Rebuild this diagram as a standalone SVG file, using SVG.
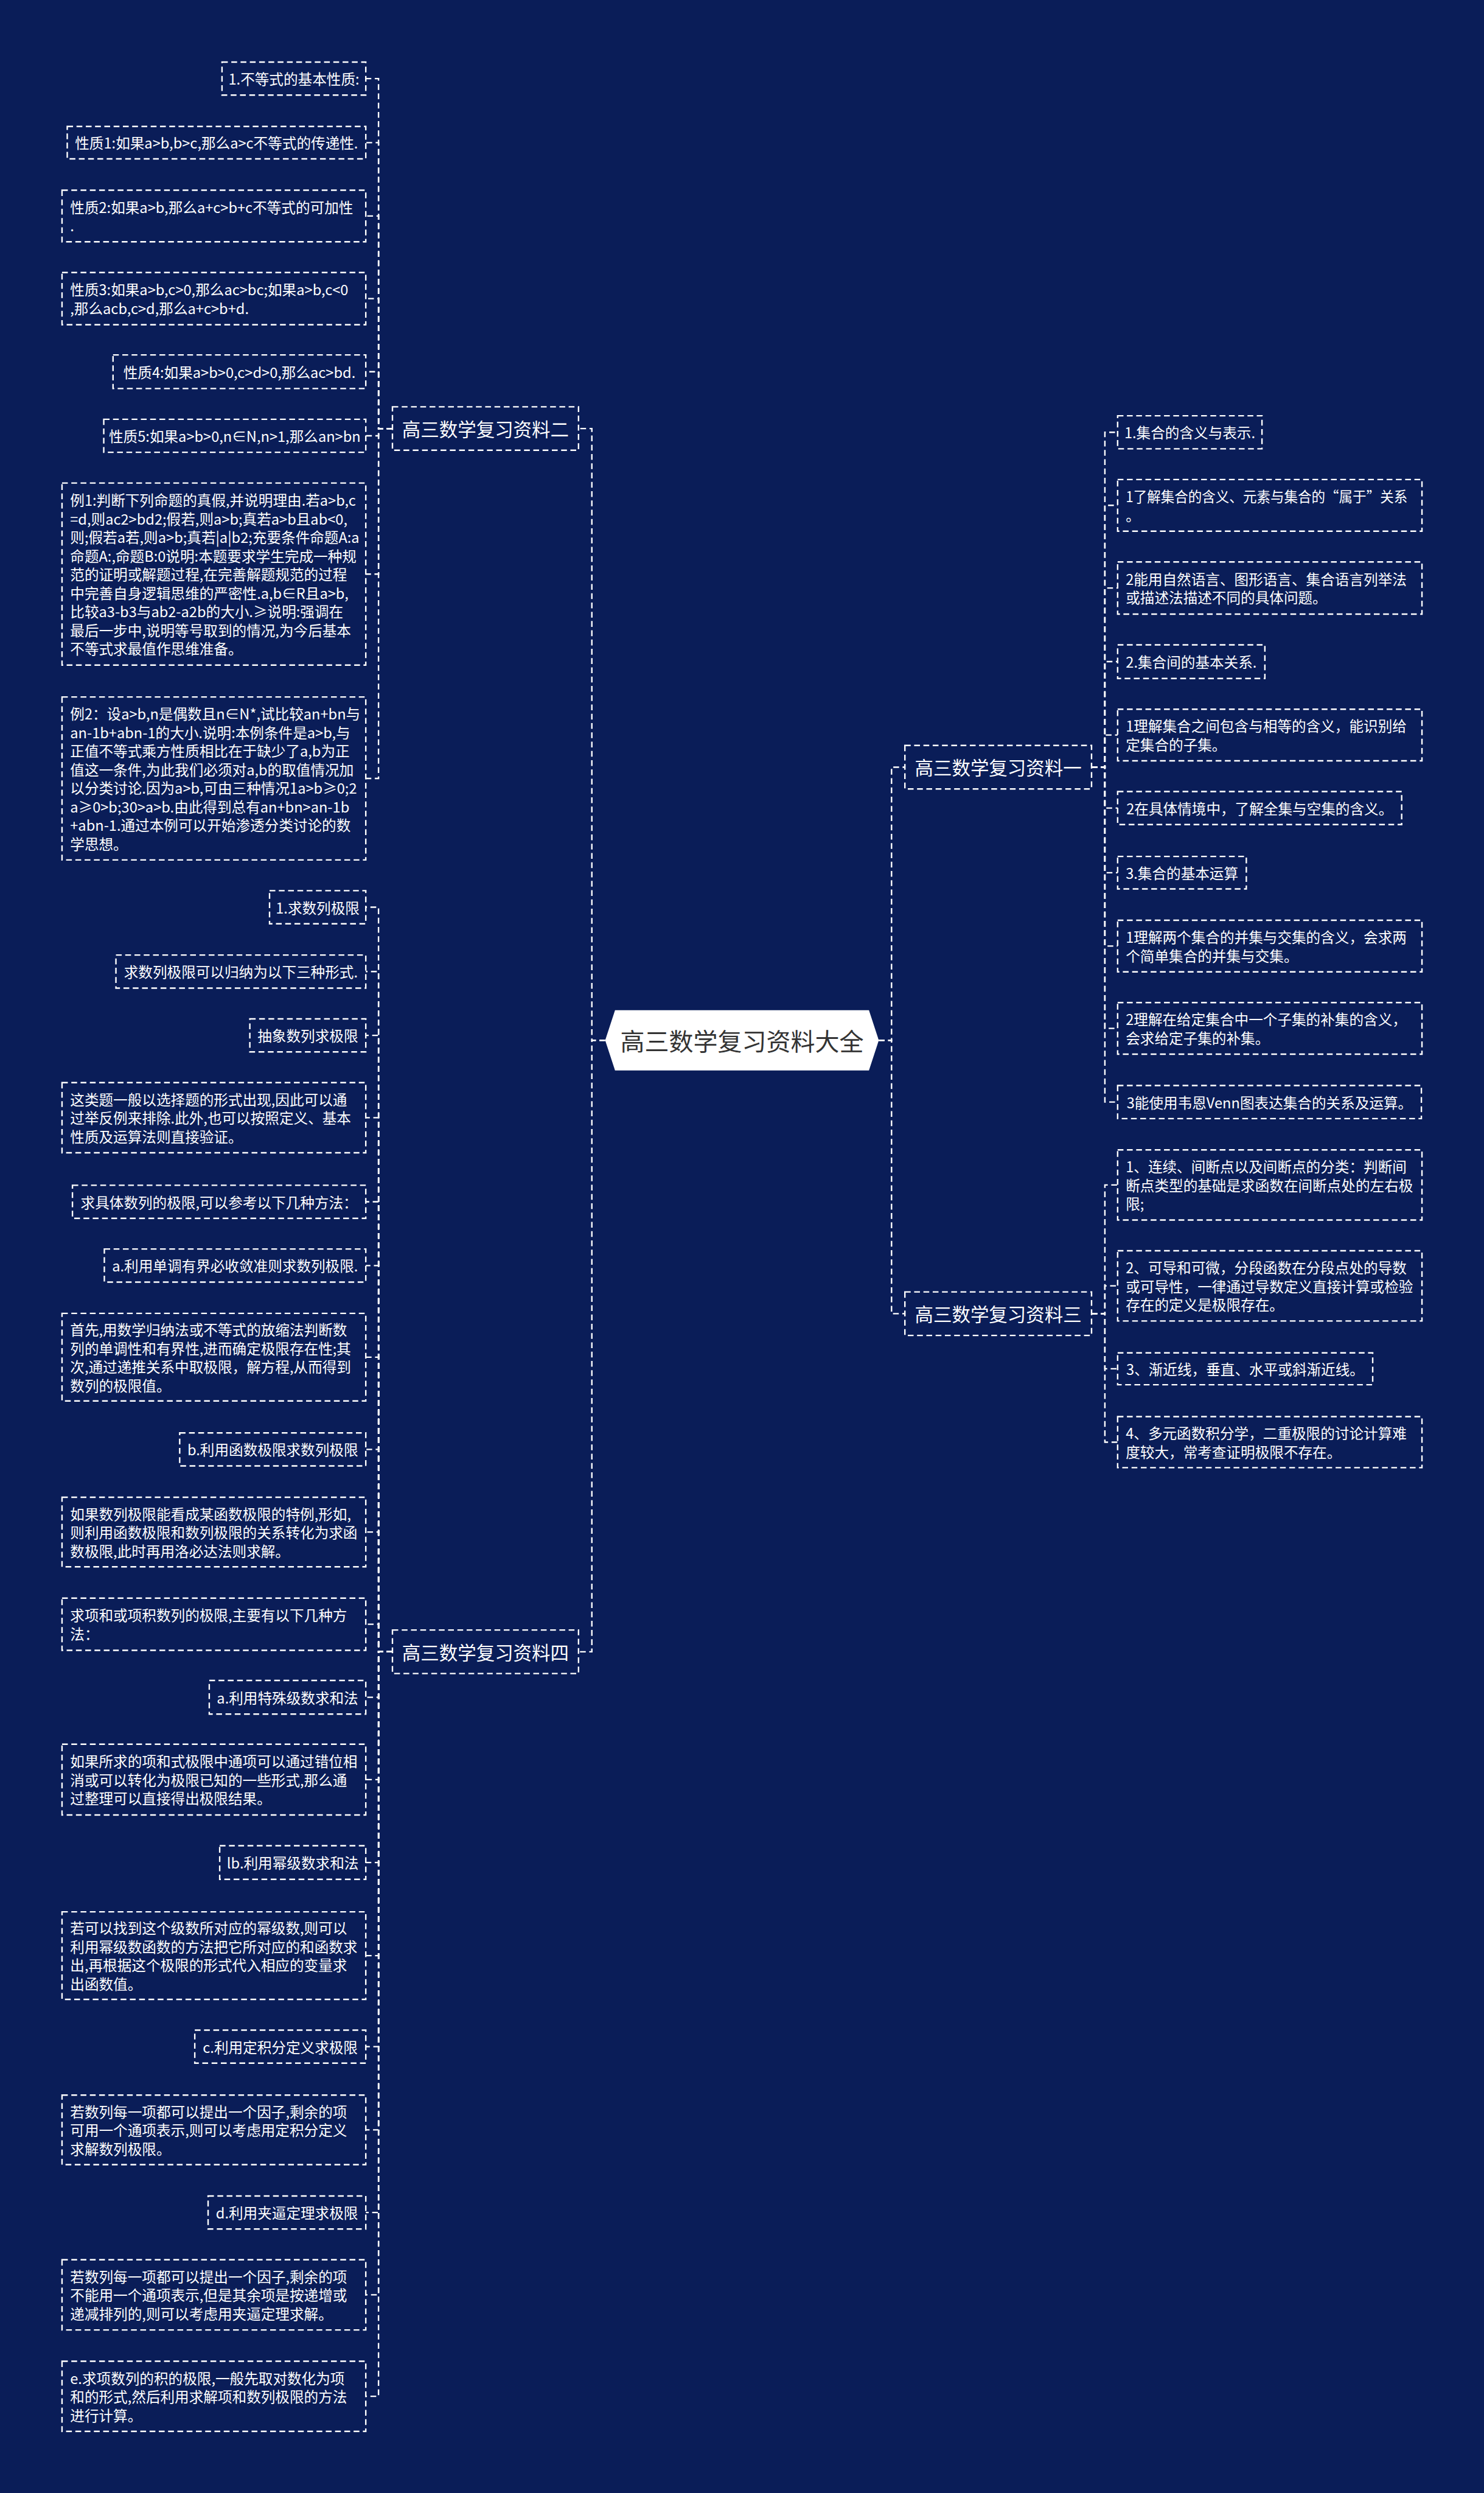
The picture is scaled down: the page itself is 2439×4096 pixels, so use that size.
<svg xmlns="http://www.w3.org/2000/svg" width="2439" height="4096" viewBox="0 0 2439 4096">
<style>
.bx{fill:none;stroke:#ffffff;stroke-width:2.5;stroke-dasharray:10 6}
.cn{fill:none;stroke:#ffffff;stroke-width:2.5;stroke-dasharray:10 6}
.t{font-family:"Noto Sans CJK SC","Noto Sans",sans-serif;font-size:24.8px;fill:#ffffff;dominant-baseline:central}
.m{text-anchor:middle}
.tb{font-size:32px}
.tc{font-size:42px;fill:#333333}
</style>
<rect x="0" y="0" width="2439" height="4096" fill="#0a1d58"/>
<g transform="scale(0.95273)">
<g id="connectors">
<path class="cn" d="M1044 1794H1021V739H998"/>
<path class="cn" d="M1044 1794H1021V2848.5H998"/>
<path class="cn" d="M1516 1794H1538V1323H1561"/>
<path class="cn" d="M1516 1794H1538V2265.5H1561"/>
<path class="cn" d="M677 739H653V135.5H631"/>
<path class="cn" d="M677 739H653V246H631"/>
<path class="cn" d="M677 739H653V372.5H631"/>
<path class="cn" d="M677 739H653V515H631"/>
<path class="cn" d="M677 739H653V641H631"/>
<path class="cn" d="M677 739H653V751.5H631"/>
<path class="cn" d="M677 739H653V990H631"/>
<path class="cn" d="M677 739H653V1342.5H631"/>
<path class="cn" d="M677 2848.5H653V1564.5H631"/>
<path class="cn" d="M677 2848.5H653V1675.5H631"/>
<path class="cn" d="M677 2848.5H653V1785.5H631"/>
<path class="cn" d="M677 2848.5H653V1927.5H631"/>
<path class="cn" d="M677 2848.5H653V2072.5H631"/>
<path class="cn" d="M677 2848.5H653V2182.5H631"/>
<path class="cn" d="M677 2848.5H653V2340.5H631"/>
<path class="cn" d="M677 2848.5H653V2499.5H631"/>
<path class="cn" d="M677 2848.5H653V2642H631"/>
<path class="cn" d="M677 2848.5H653V2801H631"/>
<path class="cn" d="M677 2848.5H653V2927H631"/>
<path class="cn" d="M677 2848.5H653V3069H631"/>
<path class="cn" d="M677 2848.5H653V3212H631"/>
<path class="cn" d="M677 2848.5H653V3372.5H631"/>
<path class="cn" d="M677 2848.5H653V3529.5H631"/>
<path class="cn" d="M677 2848.5H653V3673H631"/>
<path class="cn" d="M677 2848.5H653V3815.5H631"/>
<path class="cn" d="M677 2848.5H653V3957.5H631"/>
<path class="cn" d="M677 2848.5H653V4132.5H631"/>
<path class="cn" d="M1883 1323H1906V745.5H1928"/>
<path class="cn" d="M1883 1323H1906V871.5H1928"/>
<path class="cn" d="M1883 1323H1906V1014H1928"/>
<path class="cn" d="M1883 1323H1906V1141H1928"/>
<path class="cn" d="M1883 1323H1906V1267.5H1928"/>
<path class="cn" d="M1883 1323H1906V1393.5H1928"/>
<path class="cn" d="M1883 1323H1906V1505H1928"/>
<path class="cn" d="M1883 1323H1906V1631.5H1928"/>
<path class="cn" d="M1883 1323H1906V1773.5H1928"/>
<path class="cn" d="M1883 1323H1906V1900.5H1928"/>
<path class="cn" d="M1883 2265.5H1906V2043.5H1928"/>
<path class="cn" d="M1883 2265.5H1906V2217.5H1928"/>
<path class="cn" d="M1883 2265.5H1906V2360.5H1928"/>
<path class="cn" d="M1883 2265.5H1906V2487H1928"/>
</g>

<g id="root">
<polygon points="1044,1794 1061,1742 1499,1742 1516,1794 1499,1846 1061,1846" fill="#ffffff"/>
<text class="t m tc" x="1280" y="1794">高三数学复习资料大全</text>
</g>

<g id="b2"><rect class="bx" x="677" y="701.5" width="321" height="75"/><text class="t m tb" x="837.5" y="739">高三数学复习资料二</text></g>
<g id="b4"><rect class="bx" x="677" y="2811" width="321" height="75"/><text class="t m tb" x="837.5" y="2848.5">高三数学复习资料四</text></g>
<g id="b1"><rect class="bx" x="1561" y="1285.5" width="322" height="75"/><text class="t m tb" x="1722" y="1323">高三数学复习资料一</text></g>
<g id="b3"><rect class="bx" x="1561" y="2228" width="322" height="75"/><text class="t m tb" x="1722" y="2265.5">高三数学复习资料三</text></g>

<g id="c1"><rect class="bx" x="383" y="107" width="248" height="57"/><text class="t m" x="507" y="135.5">1.不等式的基本性质:</text></g>
<g id="c2"><rect class="bx" x="116" y="218" width="515" height="56"/><text class="t m" x="373.5" y="246">性质1:如果a&gt;b,b&gt;c,那么a&gt;c不等式的传递性.</text></g>
<g id="c3"><rect class="bx" x="107" y="328" width="524" height="89"/><text class="t" x="121"><tspan x="121" y="356.5">性质2:如果a&gt;b,那么a+c&gt;b+c不等式的可加性</tspan><tspan x="121" y="388.5">.</tspan></text></g>
<g id="c4"><rect class="bx" x="107" y="470" width="524" height="90"/><text class="t" x="121"><tspan x="121" y="499">性质3:如果a&gt;b,c&gt;0,那么ac&gt;bc;如果a&gt;b,c&lt;0</tspan><tspan x="121" y="531">,那么acb,c&gt;d,那么a+c&gt;b+d.</tspan></text></g>
<g id="c5"><rect class="bx" x="195" y="612" width="436" height="58"/><text class="t m" x="413" y="641">性质4:如果a&gt;b&gt;0,c&gt;d&gt;0,那么ac&gt;bd.</text></g>
<g id="c6"><rect class="bx" x="179" y="723" width="452" height="57"/><text class="t m" x="405" y="751.5">性质5:如果a&gt;b&gt;0,n∈N,n&gt;1,那么an&gt;bn</text></g>
<g id="c7"><rect class="bx" x="107" y="833" width="524" height="314"/><text class="t" x="121">
<tspan x="121" y="862">例1:判断下列命题的真假,并说明理由.若a&gt;b,c</tspan>
<tspan x="121" y="894">=d,则ac2&gt;bd2;假若,则a&gt;b;真若a&gt;b且ab&lt;0,</tspan>
<tspan x="121" y="926">则;假若a若,则a&gt;b;真若|a|b2;充要条件命题A:a</tspan>
<tspan x="121" y="958">命题A:,命题B:0说明:本题要求学生完成一种规</tspan>
<tspan x="121" y="990">范的证明或解题过程,在完善解题规范的过程</tspan>
<tspan x="121" y="1022">中完善自身逻辑思维的严密性.a,b∈R且a&gt;b,</tspan>
<tspan x="121" y="1054">比较a3-b3与ab2-a2b的大小.≥说明:强调在</tspan>
<tspan x="121" y="1086">最后一步中,说明等号取到的情况,为今后基本</tspan>
<tspan x="121" y="1118">不等式求最值作思维准备。</tspan></text></g>
<g id="c8"><rect class="bx" x="107" y="1202" width="524" height="281"/><text class="t" x="121">
<tspan x="121" y="1230.5">例2：设a&gt;b,n是偶数且n∈N*,试比较an+bn与</tspan>
<tspan x="121" y="1262.5">an-1b+abn-1的大小.说明:本例条件是a&gt;b,与</tspan>
<tspan x="121" y="1294.5">正值不等式乘方性质相比在于缺少了a,b为正</tspan>
<tspan x="121" y="1326.5">值这一条件,为此我们必须对a,b的取值情况加</tspan>
<tspan x="121" y="1358.5">以分类讨论.因为a&gt;b,可由三种情况1a&gt;b≥0;2</tspan>
<tspan x="121" y="1390.5">a≥0&gt;b;30&gt;a&gt;b.由此得到总有an+bn&gt;an-1b</tspan>
<tspan x="121" y="1422.5">+abn-1.通过本例可以开始渗透分类讨论的数</tspan>
<tspan x="121" y="1454.5">学思想。</tspan></text></g>

<g id="d1"><rect class="bx" x="465" y="1536" width="166" height="57"/><text class="t m" x="548" y="1564.5">1.求数列极限</text></g>
<g id="d2"><rect class="bx" x="200" y="1647" width="431" height="57"/><text class="t m" x="415.5" y="1675.5">求数列极限可以归纳为以下三种形式.</text></g>
<g id="d3"><rect class="bx" x="431" y="1757" width="200" height="57"/><text class="t m" x="531" y="1785.5">抽象数列求极限</text></g>
<g id="d4"><rect class="bx" x="107" y="1867" width="524" height="121"/><text class="t" x="121"><tspan x="121" y="1895.5">这类题一般以选择题的形式出现,因此可以通</tspan><tspan x="121" y="1927.5">过举反例来排除.此外,也可以按照定义、基本</tspan><tspan x="121" y="1959.5">性质及运算法则直接验证。</tspan></text></g>
<g id="d5"><rect class="bx" x="125" y="2044" width="506" height="57"/><text class="t m" x="378" y="2072.5">求具体数列的极限,可以参考以下几种方法：</text></g>
<g id="d6"><rect class="bx" x="180" y="2154" width="451" height="57"/><text class="t m" x="405.5" y="2182.5">a.利用单调有界必收敛准则求数列极限.</text></g>
<g id="d7"><rect class="bx" x="107" y="2265" width="524" height="151"/><text class="t" x="121"><tspan x="121" y="2292.5">首先,用数学归纳法或不等式的放缩法判断数</tspan><tspan x="121" y="2324.5">列的单调性和有界性,进而确定极限存在性;其</tspan><tspan x="121" y="2356.5">次,通过递推关系中取极限，解方程,从而得到</tspan><tspan x="121" y="2388.5">数列的极限值。</tspan></text></g>
<g id="d8"><rect class="bx" x="310" y="2471" width="321" height="57"/><text class="t m" x="470.5" y="2499.5">b.利用函数极限求数列极限</text></g>
<g id="d9"><rect class="bx" x="107" y="2582" width="524" height="120"/><text class="t" x="121"><tspan x="121" y="2610">如果数列极限能看成某函数极限的特例,形如,</tspan><tspan x="121" y="2642">则利用函数极限和数列极限的关系转化为求函</tspan><tspan x="121" y="2674">数极限,此时再用洛必达法则求解。</tspan></text></g>
<g id="d10"><rect class="bx" x="107" y="2756" width="524" height="90"/><text class="t" x="121"><tspan x="121" y="2785">求项和或项积数列的极限,主要有以下几种方</tspan><tspan x="121" y="2817">法：</tspan></text></g>
<g id="d11"><rect class="bx" x="361" y="2898" width="270" height="58"/><text class="t m" x="496" y="2927">a.利用特殊级数求和法</text></g>
<g id="d12"><rect class="bx" x="107" y="3008" width="524" height="122"/><text class="t" x="121"><tspan x="121" y="3037">如果所求的项和式极限中通项可以通过错位相</tspan><tspan x="121" y="3069">消或可以转化为极限已知的一些形式,那么通</tspan><tspan x="121" y="3101">过整理可以直接得出极限结果。</tspan></text></g>
<g id="d13"><rect class="bx" x="379" y="3183" width="252" height="58"/><text class="t m" x="505" y="3212">lb.利用幂级数求和法</text></g>
<g id="d14"><rect class="bx" x="107" y="3297" width="524" height="151"/><text class="t" x="121"><tspan x="121" y="3324.5">若可以找到这个级数所对应的幂级数,则可以</tspan><tspan x="121" y="3356.5">利用幂级数函数的方法把它所对应的和函数求</tspan><tspan x="121" y="3388.5">出,再根据这个极限的形式代入相应的变量求</tspan><tspan x="121" y="3420.5">出函数值。</tspan></text></g>
<g id="d15"><rect class="bx" x="336" y="3501" width="295" height="57"/><text class="t m" x="483.5" y="3529.5">c.利用定积分定义求极限</text></g>
<g id="d16"><rect class="bx" x="107" y="3613" width="524" height="120"/><text class="t" x="121"><tspan x="121" y="3641">若数列每一项都可以提出一个因子,剩余的项</tspan><tspan x="121" y="3673">可用一个通项表示,则可以考虑用定积分定义</tspan><tspan x="121" y="3705">求解数列极限。</tspan></text></g>
<g id="d17"><rect class="bx" x="359" y="3787" width="272" height="57"/><text class="t m" x="495" y="3815.5">d.利用夹逼定理求极限</text></g>
<g id="d18"><rect class="bx" x="107" y="3897" width="524" height="121"/><text class="t" x="121"><tspan x="121" y="3925.5">若数列每一项都可以提出一个因子,剩余的项</tspan><tspan x="121" y="3957.5">不能用一个通项表示,但是其余项是按递增或</tspan><tspan x="121" y="3989.5">递减排列的,则可以考虑用夹逼定理求解。</tspan></text></g>
<g id="d19"><rect class="bx" x="107" y="4072" width="524" height="121"/><text class="t" x="121"><tspan x="121" y="4100.5">e.求项数列的积的极限,一般先取对数化为项</tspan><tspan x="121" y="4132.5">和的形式,然后利用求解项和数列极限的方法</tspan><tspan x="121" y="4164.5">进行计算。</tspan></text></g>

<g id="r1"><rect class="bx" x="1928" y="717" width="249" height="57"/><text class="t m" x="2052.5" y="745.5">1.集合的含义与表示.</text></g>
<g id="r2"><rect class="bx" x="1928" y="827" width="525" height="89"/><text class="t" x="1942" y="855.5" textLength="486" lengthAdjust="spacingAndGlyphs">1了解集合的含义、元素与集合的“属于”关系</text><text class="t" x="1942" y="887.5">。</text></g>
<g id="r3"><rect class="bx" x="1928" y="969" width="525" height="90"/><text class="t" x="1942"><tspan x="1942" y="998">2能用自然语言、图形语言、集合语言列举法</tspan><tspan x="1942" y="1030">或描述法描述不同的具体问题。</tspan></text></g>
<g id="r4"><rect class="bx" x="1928" y="1112" width="254" height="58"/><text class="t m" x="2055" y="1141">2.集合间的基本关系.</text></g>
<g id="r5"><rect class="bx" x="1928" y="1223" width="525" height="89"/><text class="t" x="1942"><tspan x="1942" y="1251.5">1理解集合之间包含与相等的含义，能识别给</tspan><tspan x="1942" y="1283.5">定集合的子集。</tspan></text></g>
<g id="r6"><rect class="bx" x="1928" y="1365" width="490" height="57"/><text class="t m" x="2173" y="1393.5">2在具体情境中，了解全集与空集的含义。</text></g>
<g id="r7"><rect class="bx" x="1928" y="1477" width="222" height="56"/><text class="t m" x="2039" y="1505">3.集合的基本运算</text></g>
<g id="r8"><rect class="bx" x="1928" y="1587" width="525" height="89"/><text class="t" x="1942"><tspan x="1942" y="1615.5">1理解两个集合的并集与交集的含义，会求两</tspan><tspan x="1942" y="1647.5">个简单集合的并集与交集。</tspan></text></g>
<g id="r9"><rect class="bx" x="1928" y="1729" width="525" height="89"/><text class="t" x="1942"><tspan x="1942" y="1757.5">2理解在给定集合中一个子集的补集的含义，</tspan><tspan x="1942" y="1789.5">会求给定子集的补集。</tspan></text></g>
<g id="r10"><rect class="bx" x="1928" y="1872" width="524" height="57"/><text class="t m" x="2190" y="1900.5">3能使用韦恩Venn图表达集合的关系及运算。</text></g>

<g id="s1"><rect class="bx" x="1928" y="1983" width="525" height="121"/><text class="t" x="1942"><tspan x="1942" y="2011.5">1、连续、间断点以及间断点的分类：判断间</tspan><tspan x="1942" y="2043.5">断点类型的基础是求函数在间断点处的左右极</tspan><tspan x="1942" y="2075.5">限;</tspan></text></g>
<g id="s2"><rect class="bx" x="1928" y="2157" width="525" height="121"/><text class="t" x="1942"><tspan x="1942" y="2185.5">2、可导和可微，分段函数在分段点处的导数</tspan><tspan x="1942" y="2217.5">或可导性，一律通过导数定义直接计算或检验</tspan><tspan x="1942" y="2249.5">存在的定义是极限存在。</tspan></text></g>
<g id="s3"><rect class="bx" x="1928" y="2333" width="440" height="55"/><text class="t m" x="2148" y="2360.5">3、渐近线，垂直、水平或斜渐近线。</text></g>
<g id="s4"><rect class="bx" x="1928" y="2443" width="525" height="88"/><text class="t" x="1942"><tspan x="1942" y="2471">4、多元函数积分学，二重极限的讨论计算难</tspan><tspan x="1942" y="2503">度较大，常考查证明极限不存在。</tspan></text></g>
</g>
</svg>
